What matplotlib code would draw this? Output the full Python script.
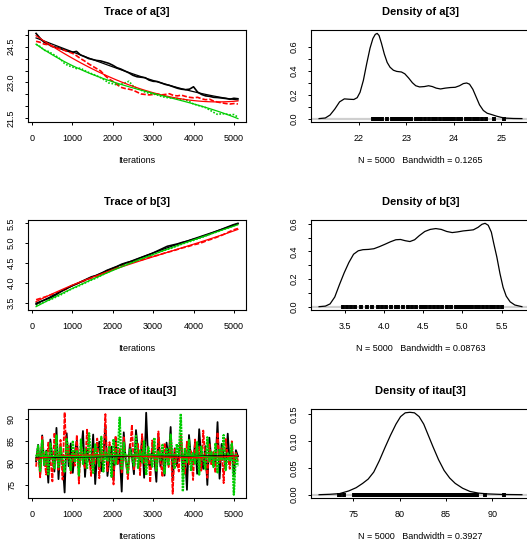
import numpy as np
import matplotlib
matplotlib.use("Agg")
import matplotlib.pyplot as plt

plt.rcParams["font.family"] = ["Liberation Sans", "DejaVu Sans"]

W, H = 527, 546
COLS = ["#000000", "#FF0000", "#00CD00"]

# ---- a[3] chains (every 100 iterations) ----
a_black = [25.05, 24.85, 24.68, 24.60, 24.50, 24.47, 24.42, 24.35, 24.30, 24.26,
           24.30, 24.15, 24.08, 24.00, 23.96, 23.92, 23.90, 23.85, 23.80, 23.72,
           23.62, 23.56, 23.48, 23.40, 23.30, 23.24, 23.22, 23.20, 23.10, 23.05,
           23.04, 22.98, 22.92, 22.88, 22.82, 22.76, 22.72, 22.70, 22.72, 22.82,
           22.60, 22.50, 22.44, 22.42, 22.38, 22.37, 22.35, 22.33, 22.30, 22.34, 22.32]
a_red = [24.72, 24.68, 24.60, 24.58, 24.52, 24.45, 24.40, 24.35, 24.28, 24.22,
         24.12, 24.00, 23.90, 23.78, 23.68, 23.58, 23.48, 23.30, 23.15, 23.05,
         22.92, 22.80, 22.75, 22.72, 22.68, 22.60, 22.52, 22.50, 22.48, 22.50,
         22.52, 22.48, 22.50, 22.53, 22.46, 22.44, 22.47, 22.42, 22.38, 22.36,
         22.38, 22.32, 22.28, 22.30, 22.22, 22.18, 22.15, 22.12, 22.10, 22.12, 22.10]
a_green = [24.60, 24.50, 24.35, 24.30, 24.20, 24.10, 23.98, 23.80, 23.70, 23.65,
           23.58, 23.60, 23.50, 23.42, 23.35, 23.28, 23.20, 23.10, 22.98, 22.95,
           22.90, 22.92, 22.98, 23.05, 22.86, 22.75, 22.68, 22.60, 22.55, 22.52,
           22.48, 22.42, 22.38, 22.36, 22.35, 22.33, 22.30, 22.28, 22.20, 22.10,
           22.05, 22.00, 21.95, 21.85, 21.75, 21.66, 21.70, 21.68, 21.65, 21.66, 21.55]

# ---- b[3] chains (every 125 iterations) ----
b_black = [3.48, 3.53, 3.58, 3.63, 3.70, 3.78, 3.85, 3.92, 3.97, 4.03,
           4.09, 4.15, 4.18, 4.24, 4.31, 4.36, 4.41, 4.47, 4.51, 4.54,
           4.59, 4.64, 4.69, 4.74, 4.80, 4.86, 4.92, 4.95, 4.98, 5.02,
           5.05, 5.09, 5.12, 5.17, 5.21, 5.26, 5.31, 5.36, 5.41, 5.46, 5.50]
b_red = [3.57, 3.61, 3.65, 3.70, 3.74, 3.79, 3.84, 3.92, 3.97, 4.02,
         4.07, 4.12, 4.16, 4.21, 4.27, 4.34, 4.38, 4.43, 4.47, 4.51,
         4.55, 4.58, 4.62, 4.66, 4.69, 4.73, 4.77, 4.80, 4.84, 4.88,
         4.91, 4.95, 4.98, 5.02, 5.07, 5.11, 5.16, 5.21, 5.27, 5.33, 5.37]
b_green = [3.43, 3.48, 3.53, 3.58, 3.64, 3.70, 3.77, 3.84, 3.89, 3.95,
           4.01, 4.07, 4.12, 4.19, 4.25, 4.31, 4.37, 4.43, 4.48, 4.52,
           4.57, 4.62, 4.66, 4.70, 4.75, 4.80, 4.84, 4.88, 4.93, 4.98,
           5.02, 5.06, 5.11, 5.15, 5.20, 5.25, 5.29, 5.34, 5.38, 5.43, 5.48]

# ---- itau[3] chains (every 50 iterations) ----
itau_black = [80.4, 84.1, 77.3, 86.2, 79.5, 82.8, 75.6, 85.3, 81.2, 78.1,
              87.9, 76.4, 83.6, 80.1, 73.4, 86.7, 79.3, 84.4, 77.8, 82.3,
              85.1, 78.6, 81.7, 87.2, 76.9, 83.2, 80.6, 79.1, 86.4, 75.3,
              82.5, 84.8, 78.2, 81.4, 88.3, 77.1, 80.9, 83.7, 76.2, 85.6,
              79.8, 82.1, 73.6, 86.9, 80.3, 78.4, 84.2, 81.6, 77.5, 87.4,
              82.7, 79.6, 85.8, 76.7, 91.3, 80.2, 78.9, 83.4, 81.1, 75.8,
              86.1, 79.2, 82.4, 77.2, 84.6, 80.7, 88.1, 76.1, 83.3, 79.4,
              81.9, 85.4, 78.3, 82.6, 74.0, 86.3, 80.8, 79.7, 84.9, 77.6,
              87.6, 81.3, 78.7, 83.8, 75.1, 85.7, 80.5, 82.2, 79.9, 89.2,
              76.5, 84.3, 81.8, 78.8, 86.6, 80.0, 83.1, 77.4, 82.9, 81.5]
itau_red = [79.2, 83.5, 76.8, 85.9, 80.7, 77.4, 84.6, 81.3, 75.9, 86.8,
            82.1, 78.5, 85.2, 76.3, 91.4, 80.9, 83.9, 77.7, 82.6, 79.4,
            86.3, 75.4, 84.1, 80.2, 78.9, 87.5, 81.8, 77.1, 83.2, 79.9,
            85.5, 76.6, 82.9, 80.4, 91.0, 78.2, 84.7, 81.1, 75.2, 86.1,
            79.6, 83.4, 77.9, 85.8, 80.8, 76.4, 82.4, 88.6, 78.6, 81.5,
            84.3, 77.3, 86.5, 80.1, 79.3, 83.7, 75.7, 85.1, 81.9, 78.4,
            87.1, 80.6, 76.9, 84.5, 82.2, 79.1, 85.6, 73.1, 83.1, 80.3,
            78.1, 86.4, 81.6, 77.6, 84.8, 79.7, 82.7, 76.2, 85.3, 80.8,
            83.6, 78.3, 87.3, 81.2, 76.7, 84.2, 79.5, 82.5, 77.8, 86.9,
            80.1, 83.3, 75.5, 85.4, 81.4, 78.7, 84.9, 79.8, 82.3, 80.5]
itau_green = [80.8, 83.9, 78.2, 85.1, 79.6, 82.7, 77.5, 84.4, 81.3, 78.8,
              86.2, 79.1, 83.5, 80.4, 77.9, 85.6, 81.7, 78.4, 84.8, 80.2,
              82.9, 77.2, 85.3, 79.8, 83.1, 78.6, 86.7, 80.9, 77.8, 84.2,
              81.5, 79.3, 85.9, 78.1, 82.4, 80.6, 83.8, 76.9, 85.4, 79.7,
              82.1, 90.2, 78.5, 84.6, 80.3, 77.6, 83.3, 81.2, 79.4, 86.1,
              78.9, 82.8, 80.1, 84.9, 77.3, 83.6, 81.4, 79.2, 85.7, 78.3,
              82.6, 80.7, 84.1, 77.7, 83.2, 79.5, 86.4, 80.5, 78.7, 84.3,
              81.8, 91.1, 73.6, 83.4, 80.2, 85.2, 78.2, 82.3, 79.9, 84.7,
              77.4, 83.7, 81.1, 78.6, 85.8, 80.4, 82.5, 79.1, 84.5, 77.9,
              83.2, 80.8, 86.3, 78.4, 82.2, 80.6, 84.4, 72.9, 81.9, 79.3]

# ---- density curves ----
dens_a_x = [21.17, 21.30, 21.40, 21.50, 21.60, 21.70, 21.80, 21.90, 21.97, 22.03,
            22.10, 22.17, 22.24, 22.30, 22.35, 22.39, 22.43, 22.48, 22.54, 22.60,
            22.66, 22.73, 22.80, 22.90, 22.97, 23.05, 23.13, 23.20, 23.28, 23.38,
            23.47, 23.55, 23.63, 23.72, 23.82, 23.93, 24.03, 24.12, 24.20, 24.27,
            24.33, 24.40, 24.47, 24.54, 24.62, 24.70, 24.80, 24.90, 25.00, 25.10,
            25.25, 25.43]
dens_a_y = [0.0, 0.005, 0.03, 0.08, 0.14, 0.165, 0.162, 0.16, 0.175, 0.22,
            0.32, 0.46, 0.59, 0.67, 0.705, 0.713, 0.695, 0.63, 0.54, 0.47,
            0.43, 0.405, 0.395, 0.39, 0.375, 0.34, 0.30, 0.275, 0.265, 0.268,
            0.275, 0.268, 0.255, 0.248, 0.255, 0.26, 0.262, 0.275, 0.293, 0.298,
            0.288, 0.245, 0.18, 0.115, 0.068, 0.045, 0.033, 0.02, 0.01, 0.004,
            0.001, 0.0]
dens_b_x = [3.17, 3.25, 3.31, 3.37, 3.43, 3.49, 3.55, 3.61, 3.67, 3.73,
            3.80, 3.87, 3.94, 4.01, 4.08, 4.15, 4.21, 4.27, 4.33, 4.39,
            4.45, 4.52, 4.59, 4.66, 4.73, 4.80, 4.87, 4.94, 5.01, 5.08,
            5.14, 5.20, 5.25, 5.29, 5.33, 5.37, 5.40, 5.44, 5.48, 5.52,
            5.56, 5.61, 5.67, 5.76]
dens_b_y = [0.0, 0.004, 0.02, 0.07, 0.16, 0.245, 0.32, 0.38, 0.405, 0.413,
            0.415, 0.42, 0.435, 0.452, 0.47, 0.485, 0.487, 0.478, 0.472, 0.485,
            0.515, 0.545, 0.56, 0.566, 0.56, 0.545, 0.537, 0.542, 0.549, 0.553,
            0.557, 0.575, 0.597, 0.604, 0.59, 0.54, 0.46, 0.36, 0.24, 0.14,
            0.076, 0.035, 0.012, 0.0]
dens_i_x = [71.3, 72.5, 73.5, 74.5, 75.3, 76.0, 76.6, 77.2, 77.8, 78.4,
            79.0, 79.6, 80.1, 80.6, 81.1, 81.6, 82.1, 82.6, 83.1, 83.6,
            84.2, 84.8, 85.4, 86.0, 86.8, 87.6, 88.5, 89.5, 91.0, 93.2]
dens_i_y = [0.0, 0.0008, 0.002, 0.007, 0.013, 0.021, 0.029, 0.042, 0.063, 0.087,
            0.110, 0.131, 0.145, 0.152, 0.153, 0.152, 0.145, 0.131, 0.110, 0.089,
            0.065, 0.045, 0.031, 0.021, 0.012, 0.006, 0.003, 0.0015, 0.0005, 0.0]

traces = [
    ("Trace of a[3]", [a_black, a_red, a_green]),
    ("Trace of b[3]", [b_black, b_red, b_green]),
    ("Trace of itau[3]", [itau_black, itau_red, itau_green]),
]
densities = [
    ("Density of a[3]", dens_a_x, dens_a_y, a_black, "0.1265"),
    ("Density of b[3]", dens_b_x, dens_b_y, b_black, "0.08763"),
    ("Density of itau[3]", dens_i_x, dens_i_y, itau_black, "0.3927"),
]
n_samples = 5000

rows_px = [(30, 122), (220, 310), (409, 498)]
left_px = (28, 246)
right_px = (311, 530)


def box(x0, x1, y0, y1):
    return [x0 / W, 1 - y1 / H, (x1 - x0) / W, (y1 - y0) / H]


def style(ax):
    for sp in ax.spines.values():
        sp.set_linewidth(0.8)
    ax.tick_params(direction="out", length=2.3, width=0.7, labelsize=6.5, pad=6.3)
    ax.tick_params(axis="y", labelrotation=90)
    for lab in ax.get_yticklabels():
        lab.set_va("center")
    ax.margins(x=0.04, y=0.04)


def smooth(x, y):
    return np.polyval(np.polyfit(x, y, 3), x)


fig = plt.figure(figsize=(W / 100, H / 100), dpi=100)

ytick_sets = [
    (np.arange(21.5, 25.01, 0.5), {21.5: "21.5", 23.0: "23.0", 24.5: "24.5"}),
    (np.arange(3.5, 5.51, 0.5), None),
    (np.arange(75, 91, 5), None),
]
dens_ticks = [
    ([22, 23, 24, 25], np.arange(0, 0.61, 0.1), {0.0: "0.0", 0.2: "0.2", 0.4: "0.4", 0.6: "0.6"}),
    ([3.5, 4.0, 4.5, 5.0, 5.5], np.arange(0, 0.61, 0.1), {0.0: "0.0", 0.2: "0.2", 0.4: "0.4", 0.6: "0.6"}),
    ([75, 80, 85, 90], [0.0, 0.05, 0.10, 0.15], None),
]

styles = [dict(ls="-"), dict(ls=(0, (3, 1.2))), dict(ls=(0, (1, 1)))]
itau_styles = [dict(ls="-", lw=1.3), dict(ls=(0, (2.5, 0.7)), lw=1.3), dict(ls=(0, (1, 0.4)), lw=1.6)]

for r, (y0, y1) in enumerate(rows_px):
    # trace panel
    title, chains = traces[r]
    ax = fig.add_axes(box(left_px[0], left_px[1], y0, y1))
    for k, ch in enumerate(chains):
        it = np.linspace(101, 5100, len(ch))
        if r == 2:
            ax.plot(it, ch, color=COLS[k], **itau_styles[k])
        else:
            ax.plot(it, ch, color=COLS[k], lw=1.2, **styles[k])
    for k, ch in enumerate(chains):
        it = np.linspace(101, 5100, len(ch))
        ax.plot(it, smooth(it, ch), color=COLS[k], lw=0.9)
    ax.set_xticks(range(0, 5001, 1000))
    yt, ylab = ytick_sets[r]
    ax.set_yticks(yt)
    if ylab is not None:
        ax.set_yticklabels([ylab.get(round(v, 1), "") for v in yt])
    style(ax)
    ax.set_title(title, fontsize=8, fontweight="bold", pad=11)
    ax.annotate("Iterations", xy=(0.5, 0), xycoords="axes fraction",
                xytext=(0, -27.5), textcoords="offset points",
                ha="center", va="center", fontsize=6.5)

    # density panel
    title, dx, dy, rug, bw = densities[r]
    ax = fig.add_axes(box(right_px[0], right_px[1], y0, y1))
    ax.axhline(0, color="#cfcfcf", lw=1.6, zorder=1)
    ax.plot(dx, dy, color="black", lw=0.9, zorder=3)
    ax.plot(rug, np.zeros(len(rug)), ls="none", marker="|", color="black",
            ms=3.0, mew=2.8, zorder=2)
    xt, yt, ylab = dens_ticks[r]
    ax.set_xticks(xt)
    ax.set_yticks(yt)
    if ylab is not None:
        ax.set_yticklabels([ylab.get(round(v, 1), "") for v in yt])
    else:
        ax.set_yticklabels(["%.2f" % v for v in yt])
    if r == 1:
        ax.set_xticklabels(["%.1f" % v for v in xt])
    style(ax)
    ax.set_title(title, fontsize=8, fontweight="bold", pad=11)
    ax.annotate("N = %d   Bandwidth = %s" % (n_samples, bw), xy=(0.5, 0),
                xycoords="axes fraction", xytext=(0, -28), textcoords="offset points",
                ha="center", va="center", fontsize=6.5)

fig.savefig("out.png", dpi=100)
